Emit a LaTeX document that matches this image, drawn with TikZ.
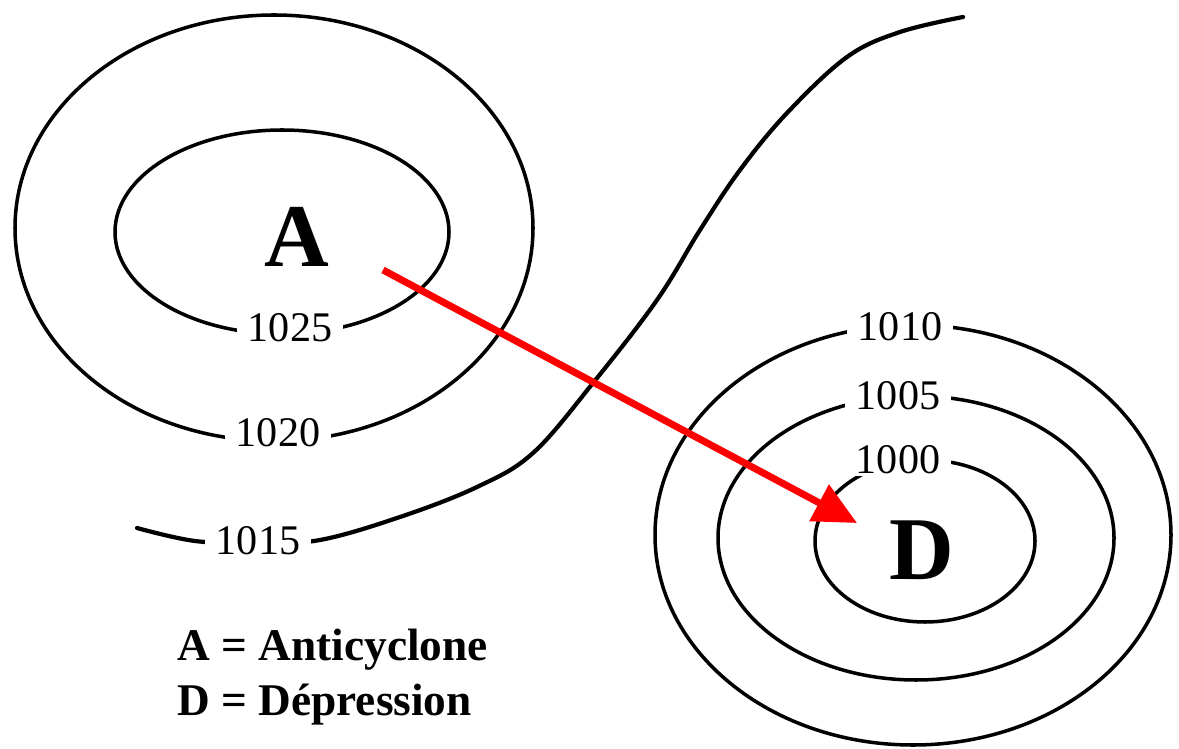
\documentclass[tikz,border=0pt]{standalone}
\usepackage{fontspec}
\setmainfont{Liberation Serif}
\usetikzlibrary{arrows.meta}
\tikzset{
  isobar/.style={draw,line width=2pt},
  pval/.style={fill=white,inner xsep=6pt,inner ysep=1pt,font=\fontsize{24}{24}\selectfont},
  centre/.style={inner sep=0pt,font=\fontsize{51}{51}\selectfont\bfseries},
  legendtxt/.style={anchor=base west,inner sep=0pt,font=\fontsize{25.8}{26}\selectfont\bfseries},
  flow/.style={draw=red,line width=0.14cm,-{Triangle[length=0.86cm,width=0.8cm]}}
}

\begin{document}
\begin{tikzpicture}[x=0.02cm,y=-0.02cm]
\fill[white] (0,0) rectangle (1179,749);
\useasboundingbox (0,0) rectangle (1179,749);

% anticyclone
\draw[isobar] (274,228) ellipse [x radius=259,y radius=213];
\draw[isobar] (282,232) ellipse [x radius=167,y radius=102];
% depression
\draw[isobar] (913,535) ellipse [x radius=258,y radius=210];
\draw[isobar] (916,538) ellipse [x radius=198,y radius=142];
\draw[isobar] (925,541) ellipse [x radius=110,y radius=81];
% 1015 line
\draw[isobar,line width=2.4pt,line cap=round] plot[smooth,tension=0.6] coordinates {
  (137,528) (195,541) (258,543) (320,540) (400,517) (477,487) (533,453)
  (593,383) (657,300) (700,230) (740,170) (787,113) (847,57) (900,32) (963,17)};

\node[pval] (p1025) at (290,328) {1025};
\node[pval] (p1020) at (278,433) {1020};
\node[pval] (p1015) at (258,541) {1015};
\node[pval] (p1010) at (900,327) {1010};
\node[pval] (p1005) at (898,396) {1005};
\node[pval] (p1000) at (898,460) {1000};

\node[centre] (hA) at (297,237) {A};
\node[centre] (lD) at (922,550) {D};

\coordinate (from) at (383,270);
\coordinate (to) at (857,523);
\draw[flow] (from) -- (to);

\node[legendtxt] (legA) at (177,660) {A = Anticyclone};
\node[legendtxt] (legD) at (177,715) {D = Dépression};
\end{tikzpicture}
\end{document}
